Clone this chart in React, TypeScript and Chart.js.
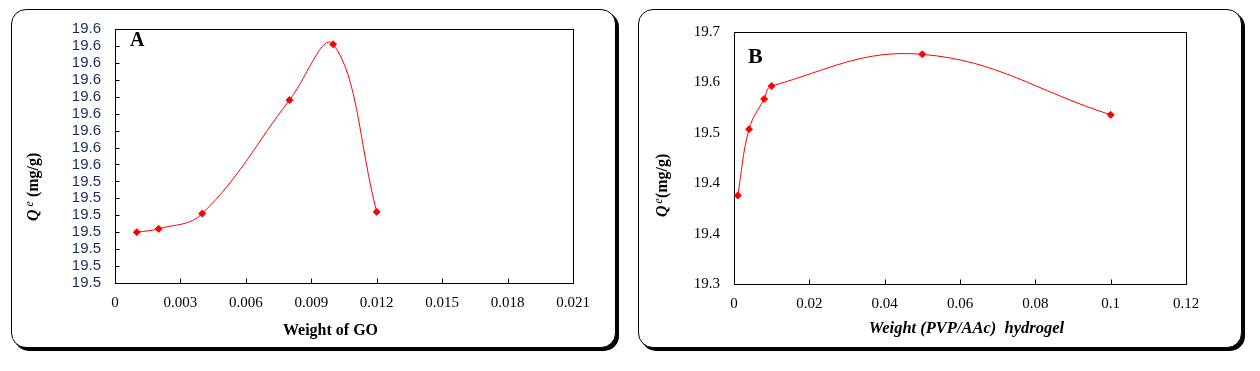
import React, { useEffect, useRef } from 'react';
import { Chart, registerables } from 'chart.js';

Chart.register(...registerables);

// ---------- Panel A data ----------
const weightGO = [0.001, 0.002, 0.004, 0.008, 0.010, 0.012];
const qeGO = [19.510, 19.512, 19.521, 19.588, 19.621, 19.522];
const xTicksA = [0, 0.003, 0.006, 0.009, 0.012, 0.015, 0.018, 0.021];
const xTickLabelsA = ['0', '0.003', '0.006', '0.009', '0.012', '0.015', '0.018', '0.021'];
const yTicksA = [19.48, 19.49, 19.50, 19.51, 19.52, 19.53, 19.54, 19.55, 19.56, 19.57, 19.58, 19.59, 19.60, 19.61, 19.62, 19.63];
const yTickLabelsA = ['19.5', '19.5', '19.5', '19.5', '19.5', '19.5', '19.5', '19.6', '19.6', '19.6', '19.6', '19.6', '19.6', '19.6', '19.6', '19.6'];

// ---------- Panel B data ----------
const weightHydrogel = [0.001, 0.004, 0.008, 0.010, 0.050, 0.100];
const qeHydrogel = [19.423, 19.515, 19.557, 19.575, 19.619, 19.535];
const xTicksB = [0, 0.02, 0.04, 0.06, 0.08, 0.1, 0.12];
const xTickLabelsB = ['0', '0.02', '0.04', '0.06', '0.08', '0.1', '0.12'];
const yTicksB = [19.30, 19.37, 19.44, 19.51, 19.58, 19.65];
const yTickLabelsB = ['19.3', '19.4', '19.4', '19.5', '19.6', '19.7'];

const W = 1260;
const H = 371;
const SERIF = '"Liberation Serif", "Times New Roman", serif';
const SANS = '"Liberation Sans", Arial, sans-serif';

type Part = { text: string; font: string; dy: number; gap: number };
type Panel = {
  id: string;
  xs: number[];
  ys: number[];
  xTicks: number[];
  xLabels: string[];
  yTicks: number[];
  yLabels: string[];
  area: { left: number; top: number; right: number; bottom: number };
  yFont: any;
  yColor: string;
  xFont: any;
  xColor: string;
  xPad: number;
  yPad: number;
  tickLen: number;
  yInnerTicks: boolean;
  letter: { text: string; font: string; x: number; y: number };
  xTitle: { text: string; font: string; x: number; y: number };
  yTitle: { x: number; y: number; parts: Part[] };
};

const panelA: Panel = {
  id: 'A',
  xs: weightGO,
  ys: qeGO,
  xTicks: xTicksA,
  xLabels: xTickLabelsA,
  yTicks: yTicksA,
  yLabels: yTickLabelsA,
  area: { left: 115, top: 29, right: 573, bottom: 283 },
  yFont: { family: SANS, size: 15 },
  yColor: '#172d5c',
  xFont: { family: SERIF, size: 15 },
  xColor: '#000',
  xPad: 11,
  yPad: 14,
  tickLen: 5,
  yInnerTicks: true,
  letter: { text: 'A', font: `bold 20px ${SERIF}`, x: 130, y: 46 },
  xTitle: { text: 'Weight of GO', font: `bold 16px ${SERIF}`, x: 330.5, y: 335 },
  yTitle: {
    x: 38,
    y: 221,
    parts: [
      { text: 'Q', font: `bold italic 16px ${SERIF}`, dy: 0, gap: 3 },
      { text: 'e', font: `italic 12px ${SERIF}`, dy: -5.5, gap: 0 },
      { text: ' (mg/g)', font: `bold 16px ${SERIF}`, dy: 0, gap: 0 },
    ],
  },
};

const panelB: Panel = {
  id: 'B',
  xs: weightHydrogel,
  ys: qeHydrogel,
  xTicks: xTicksB,
  xLabels: xTickLabelsB,
  yTicks: yTicksB,
  yLabels: yTickLabelsB,
  area: { left: 734, top: 32, right: 1186, bottom: 284 },
  yFont: { family: SERIF, size: 15 },
  yColor: '#000',
  xFont: { family: SERIF, size: 15 },
  xColor: '#000',
  xPad: 11,
  yPad: 14,
  tickLen: 5,
  yInnerTicks: false,
  letter: { text: 'B', font: `bold 22px ${SERIF}`, x: 748, y: 63 },
  xTitle: { text: 'Weight (PVP/AAc)  hydrogel', font: `bold italic 16.5px ${SERIF}`, x: 966.5, y: 333 },
  yTitle: {
    x: 667,
    y: 217,
    parts: [
      { text: 'Q', font: `bold italic 16px ${SERIF}`, dy: 0, gap: 2 },
      { text: 'e', font: `italic 12px ${SERIF}`, dy: -5.5, gap: 0 },
      { text: '(mg/g)', font: `bold 16px ${SERIF}`, dy: 0, gap: 0 },
    ],
  },
};

function framePlugin(p: Panel) {
  return {
    id: 'frame' + p.id,
    beforeDatasetsDraw(chart: any) {
      const { ctx, chartArea } = chart;
      const { left, top, right, bottom } = chartArea;
      ctx.save();
      ctx.strokeStyle = '#000';
      ctx.lineWidth = 1;
      ctx.strokeRect(left + 0.5, top + 0.5, right - left, bottom - top);
      ctx.beginPath();
      const xs = chart.scales.x;
      p.xTicks.forEach((v) => {
        const px = Math.round(xs.getPixelForValue(v)) + 0.5;
        ctx.moveTo(px, bottom + 0.5);
        ctx.lineTo(px, bottom + 0.5 - p.tickLen);
      });
      if (p.yInnerTicks) {
        const ys = chart.scales.y;
        p.yTicks.forEach((v) => {
          const py = Math.round(ys.getPixelForValue(v)) + 0.5;
          ctx.moveTo(left + 0.5, py);
          ctx.lineTo(left + 0.5 + p.tickLen - 1, py);
        });
      }
      ctx.stroke();
      ctx.restore();
    },
    afterDraw(chart: any) {
      const ctx = chart.ctx as CanvasRenderingContext2D;
      ctx.save();
      ctx.fillStyle = '#000';
      ctx.textBaseline = 'alphabetic';
      ctx.font = p.letter.font;
      ctx.textAlign = 'left';
      ctx.fillText(p.letter.text, p.letter.x, p.letter.y);
      ctx.font = p.xTitle.font;
      ctx.textAlign = 'center';
      ctx.fillText(p.xTitle.text, p.xTitle.x, p.xTitle.y);
      ctx.translate(p.yTitle.x, p.yTitle.y);
      ctx.rotate(-Math.PI / 2);
      ctx.textAlign = 'left';
      let cx = 0;
      p.yTitle.parts.forEach((part) => {
        ctx.font = part.font;
        ctx.fillText(part.text, cx, part.dy);
        cx += ctx.measureText(part.text).width + part.gap;
      });
      ctx.restore();
    },
  };
}

function buildConfig(p: Panel): any {
  const xAxisHeight = 40;
  return {
    type: 'line',
    data: {
      datasets: [
        {
          data: p.xs.map((x, i) => ({ x, y: p.ys[i] })),
          borderColor: '#ff0000',
          backgroundColor: '#ff0000',
          borderWidth: 1,
          pointStyle: 'rectRot',
          pointRadius: 3.5,
          pointBorderWidth: 1,
          pointBorderColor: '#ff0000',
          pointBackgroundColor: '#ff0000',
          tension: 0.4,
          fill: false,
        },
      ],
    },
    options: {
      responsive: false,
      animation: false,
      devicePixelRatio: 1,
      events: [],
      layout: {
        padding: {
          left: 0,
          top: p.area.top,
          right: W - p.area.right,
          bottom: H - p.area.bottom - xAxisHeight,
        },
      },
      plugins: {
        legend: { display: false },
        tooltip: { enabled: false },
        title: { display: false },
      },
      scales: {
        x: {
          type: 'linear',
          min: p.xTicks[0],
          max: p.xTicks[p.xTicks.length - 1],
          grid: { display: false, drawTicks: false },
          border: { display: false },
          afterBuildTicks: (s: any) => {
            s.ticks = p.xTicks.map((v) => ({ value: v }));
          },
          afterFit: (s: any) => {
            s.height = xAxisHeight;
          },
          ticks: {
            autoSkip: false,
            maxRotation: 0,
            minRotation: 0,
            padding: p.xPad,
            font: p.xFont,
            color: p.xColor,
            callback: (_v: any, i: number) => p.xLabels[i],
          },
        },
        y: {
          type: 'linear',
          min: p.yTicks[0],
          max: p.yTicks[p.yTicks.length - 1],
          grid: { display: false, drawTicks: false },
          border: { display: false },
          afterBuildTicks: (s: any) => {
            s.ticks = p.yTicks.map((v) => ({ value: v }));
          },
          afterFit: (s: any) => {
            s.width = p.area.left;
          },
          ticks: {
            autoSkip: false,
            padding: p.yPad,
            font: p.yFont,
            color: p.yColor,
            callback: (_v: any, i: number) => p.yLabels[i],
          },
        },
      },
    },
    plugins: [framePlugin(p)],
  };
}

export default function App() {
  const refA = useRef<HTMLCanvasElement>(null);
  const refB = useRef<HTMLCanvasElement>(null);

  useEffect(() => {
    const a = new Chart(refA.current as HTMLCanvasElement, buildConfig(panelA));
    const b = new Chart(refB.current as HTMLCanvasElement, buildConfig(panelB));
    return () => {
      a.destroy();
      b.destroy();
    };
  }, []);

  const frame = (left: number, width: number): React.CSSProperties => ({
    position: 'absolute',
    left,
    top: 9,
    width,
    height: 339,
    boxSizing: 'border-box',
    border: '1px solid #000',
    borderRadius: 15,
    boxShadow: '3px 3px 0 #000',
    background: '#fff',
  });

  const canvasStyle: React.CSSProperties = {
    position: 'absolute',
    left: 0,
    top: 0,
    width: W,
    height: H,
  };

  return (
    <div
      style={{
        position: 'fixed',
        left: 0,
        top: 0,
        width: W,
        height: H,
        background: '#fff',
        overflow: 'hidden',
      }}
    >
      <div style={frame(11, 605)} />
      <div style={frame(638, 604)} />
      <canvas ref={refA} width={W} height={H} style={canvasStyle} />
      <canvas ref={refB} width={W} height={H} style={canvasStyle} />
    </div>
  );
}
